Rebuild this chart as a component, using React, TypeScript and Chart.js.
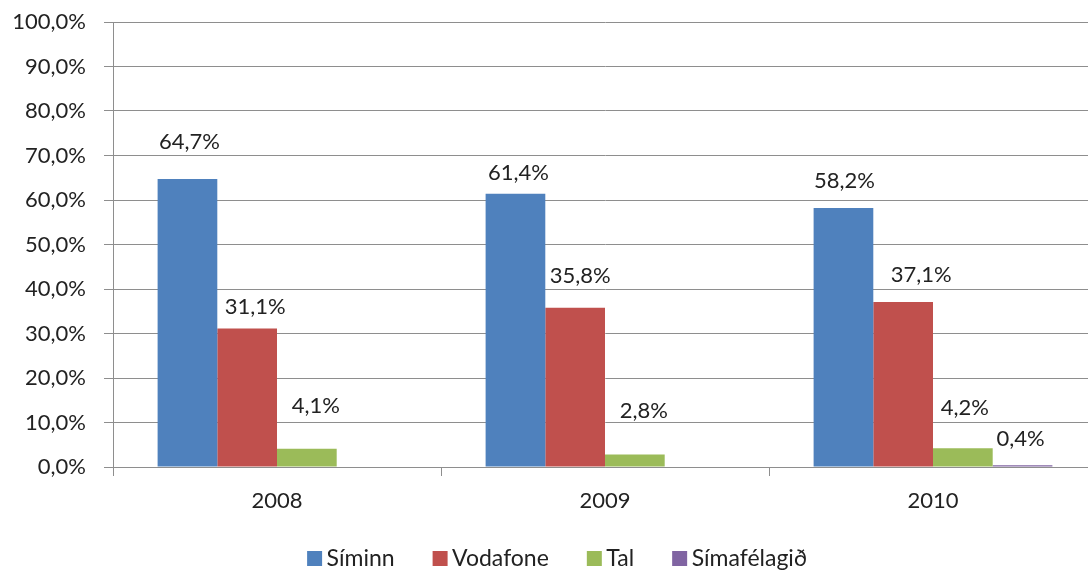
import React, { useEffect, useRef } from "react";
import { Chart, registerables } from "chart.js";

Chart.register(...registerables);

const categories = ["2008", "2009", "2010"];
const seriesNames = ["Síminn", "Vodafone", "Tal", "Símafélagið"];
const siminn = [64.7, 61.4, 58.2];
const vodafone = [31.1, 35.8, 37.1];
const tal = [4.1, 2.8, 4.2];
const simafelagid = [null, null, 0.4];
const seriesColors = ["#4F81BD", "#C0504D", "#9BBB59", "#8064A2"];

// label placement nudges [dx, dy] relative to the bar top centre (style only)
const labelNudges = [
  [[2, -37], [3, -21], [1, -27]],
  [[8, -22], [5, -32], [18, -27]],
  [[9, -43], [9, -44], [2, -40]],
  [[0, 0], [0, 0], [-2, -26]],
];

const FONT = "Lato";
const TEXT = "#222222";
const GRID = "#8E8E8E";

const fmt = (v: number) => v.toFixed(1).replace(".", ",") + "%";

const labelPlugin = {
  id: "barLabels",
  afterDatasetsDraw(chart: any) {
    const ctx = chart.ctx;
    ctx.save();
    ctx.font = `22px ${FONT}`;
    ctx.fillStyle = TEXT;
    ctx.textAlign = "center";
    ctx.textBaseline = "middle";
    chart.data.datasets.forEach((ds: any, di: number) => {
      const meta = chart.getDatasetMeta(di);
      meta.data.forEach((bar: any, i: number) => {
        const v = ds.data[i];
        if (v == null) return;
        const [dx, dy] = labelNudges[di][i];
        ctx.fillText(fmt(v), bar.x + dx, bar.y + dy);
      });
    });
    ctx.restore();
  },
};

// shift legend block right a little, and let x tick labels extend below the axis box
const layoutTweaks = {
  id: "layoutTweaks",
  afterLayout(chart: any) {
    const l = chart.legend;
    if (l) {
      l.left += 12;
      l.right += 12;
    }
    const x = chart.scales.x;
    if (x) x.bottom += 25;
  },
};

export default function App() {
  const ref = useRef<HTMLCanvasElement | null>(null);

  useEffect(() => {
    if (!ref.current) return;
    const values = [siminn, vodafone, tal, simafelagid];
    const chart = new Chart(ref.current, {
      type: "bar",
      data: {
        labels: categories,
        datasets: seriesNames.map((name, i) => ({
          label: name,
          data: values[i] as any,
          backgroundColor: seriesColors[i],
          borderWidth: 0,
          categoryPercentage: 0.728,
          barPercentage: 1,
        })),
      },
      options: {
        responsive: false,
        animation: false,
        devicePixelRatio: 1,
        layout: { padding: { left: 0, right: 0, top: 22, bottom: 0 } },
        plugins: {
          legend: {
            position: "bottom",
            labels: {
              usePointStyle: true,
              pointStyle: "rect",
              boxWidth: 1,
              boxHeight: 15,
              padding: 45,
              color: TEXT,
              font: { family: FONT, size: 23 },
            },
          },
          tooltip: { enabled: false },
        },
        scales: {
          x: {
            grid: {
              drawOnChartArea: false,
              drawTicks: true,
              tickLength: 9,
              color: GRID,
              offset: true,
            },
            border: { display: true, color: GRID },
            ticks: { padding: 12, color: TEXT, font: { family: FONT, size: 22 } },
            afterFit: (s: any) => {
              s.height = 35;
            },
          },
          y: {
            min: 0,
            max: 100,
            ticks: {
              stepSize: 10,
              padding: 18,
              color: TEXT,
              font: { family: FONT, size: 22 },
            },
            afterTickToLabelConversion: (s: any) => {
              s.ticks.forEach((t: any) => {
                t.label = fmt(Number(t.value));
              });
            },
            grid: { color: GRID, tickLength: 9, drawTicks: true },
            border: { display: true, color: GRID },
            afterFit: (s: any) => {
              s.width = 113;
              s.paddingTop = 0;
              s.paddingBottom = 0;
            },
          },
        },
      },
      plugins: [labelPlugin, layoutTweaks],
    });
    return () => chart.destroy();
  }, []);

  return (
    <div
      style={{
        position: "fixed",
        left: 0,
        top: 0,
        width: 1088,
        height: 570,
        overflow: "hidden",
        background: "#ffffff",
      }}
    >
      <canvas ref={ref} width={1097} height={580} style={{ display: "block" }} />
    </div>
  );
}
